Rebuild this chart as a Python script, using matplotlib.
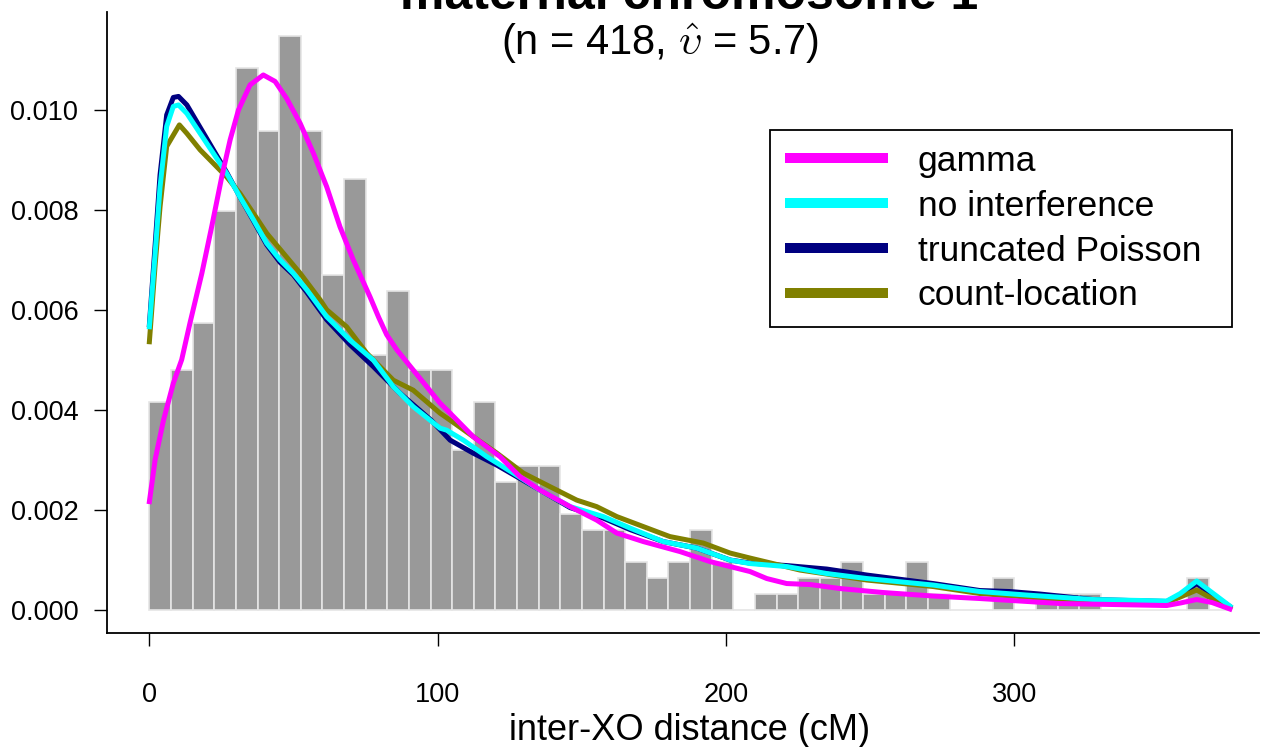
import numpy as np
import matplotlib
matplotlib.use('Agg')
import matplotlib.pyplot as plt

plt.rcParams['font.family'] = ['Liberation Sans', 'DejaVu Sans']
plt.rcParams['mathtext.fontset'] = 'cm'

# histogram of inter-crossover distances (counts per 7.5 cM bin, 0 - 375)
n_obs = 418
bin_width = 7.5
counts = [13, 15, 18, 25, 34, 30, 36, 30, 21, 27,
          16, 20, 15, 15, 10, 13, 8, 9, 9, 6,
          5, 5, 3, 2, 3, 5, 3, 0, 1, 1,
          2, 2, 3, 1, 1, 3, 1, 0, 0, 2,
          0, 1, 1, 1, 0, 0, 0, 0, 2, 0]

# fitted densities (units of 1e-3)
gamma_x = [0, 2.0, 4.9, 8.3, 11.2, 14.1, 18.2, 21.6, 25.1, 28.0, 30.9, 34.9, 39.5,
           43.6, 47.6, 52.3, 56.9, 61.5, 66.1, 70.7, 76.5, 79.5, 82.3, 85.8, 89.3,
           96.2, 100.8, 104.3, 112.3, 121.6, 128.5, 135.5, 145.9, 155.1, 162.1,
           171.3, 184.0, 194.4, 208.3, 214.1, 221.0, 229.1, 239.5, 254.5, 271.8,
           288.0, 315.8, 352.8, 357.5, 363.2, 368.5, 374.7]
gamma_y = [2.16, 3.0, 3.79, 4.53, 5.0, 5.74, 6.73, 7.66, 8.66, 9.40, 10.0, 10.5, 10.70,
           10.57, 10.23, 9.73, 9.13, 8.46, 7.66, 7.0, 6.26, 5.85, 5.5, 5.2, 4.95,
           4.46, 4.13, 3.93, 3.46, 3.06, 2.66, 2.39, 2.06, 1.79, 1.53,
           1.36, 1.16, 0.96, 0.76, 0.62, 0.52, 0.50, 0.42, 0.34, 0.27,
           0.22, 0.12, 0.08, 0.13, 0.20, 0.14, 0.01]

noint_x = [0, 2.0, 3.7, 6.0, 8.3, 10.1, 13.0, 17.6, 22.2, 26.8, 31.4, 36.1, 40.7,
           45.3, 49.9, 54.6, 61.5, 63.8, 69.6, 77.7, 84.6, 91.5, 100.8, 103.1,
           108.9, 117.0, 126.2, 135.5, 145.9, 157.4, 166.7, 178.2, 189.8, 201.4,
           208.3, 221.0, 234.9, 248.8, 271.8, 288.0, 304.2, 327.3, 352.8, 357.5,
           363.2, 368.5, 374.7]
noint_y = [5.66, 7.13, 8.46, 9.67, 10.07, 10.10, 9.93, 9.53, 9.13, 8.73, 8.26, 7.80, 7.33,
           7.0, 6.73, 6.40, 5.86, 5.73, 5.39, 4.99, 4.46, 4.06, 3.63, 3.59,
           3.39, 3.06, 2.73, 2.39, 2.06, 1.86, 1.63, 1.36, 1.23, 0.99,
           0.92, 0.86, 0.72, 0.62, 0.49, 0.36, 0.29, 0.20, 0.17, 0.32,
           0.57, 0.34, 0.07]

trunc_x = [0, 2.0, 3.7, 6.0, 8.3, 10.1, 13.0, 17.6, 22.2, 26.8, 31.4, 36.1, 40.7,
           45.3, 49.9, 54.6, 61.5, 69.6, 77.7, 86.9, 97.7, 104.3, 112.3, 120.5,
           135.5, 145.9, 157.4, 166.7, 178.2, 189.8, 201.4, 208.3, 221.0, 234.9,
           248.8, 271.8, 288.0, 298.4, 308.8, 327.3, 352.8, 357.5, 363.2, 368.5, 374.7]
trunc_y = [5.7, 7.3, 8.7, 9.9, 10.25, 10.27, 10.1, 9.65, 9.2, 8.75, 8.26, 7.78, 7.3,
           6.95, 6.7, 6.35, 5.8, 5.3, 4.86, 4.33, 3.79, 3.39, 3.13, 2.89,
           2.39, 2.04, 1.83, 1.60, 1.36, 1.23, 0.99, 0.93, 0.88, 0.81,
           0.69, 0.52, 0.38, 0.36, 0.31, 0.20, 0.16, 0.29, 0.52, 0.30, 0.06]

cloc_x = [0, 2.0, 3.7, 6.0, 10.4, 13.0, 17.6, 22.2, 26.8, 31.4, 36.1, 40.7, 46.5,
          52.3, 59.2, 61.5, 68.4, 75.4, 84.6, 91.5, 100.8, 104.3, 112.3, 120.5,
          129.7, 138.9, 148.2, 155.1, 162.1, 171.3, 180.5, 192.1, 201.4, 208.3,
          225.6, 248.8, 271.8, 288.0, 315.8, 352.8, 357.5, 363.2, 368.5, 374.7]
cloc_y = [5.36, 6.9, 8.06, 9.27, 9.70, 9.53, 9.20, 8.93, 8.66, 8.33, 7.93, 7.53, 7.13,
          6.73, 6.20, 6.00, 5.66, 5.13, 4.59, 4.39, 3.93, 3.79, 3.46, 3.13,
          2.73, 2.46, 2.19, 2.06, 1.86, 1.66, 1.46, 1.33, 1.13, 1.03,
          0.79, 0.59, 0.46, 0.32, 0.20, 0.14, 0.25, 0.39, 0.22, 0.03]

W, H = 1263, 747
fig = plt.figure(figsize=(W / 100, H / 100), dpi=100)
ax = fig.add_axes([106.7 / W, 1 - 632.7 / H, (1259 - 106.7) / W, (632.7 - 12) / H])

edges = np.arange(len(counts)) * bin_width
dens = np.array(counts) / (n_obs * bin_width)
ax.bar(edges, dens, width=bin_width, align='edge', color='#999999',
       edgecolor='#e5e5e5', linewidth=1.2, zorder=1)

lw = 3.6
l_tp, = ax.plot(trunc_x, np.array(trunc_y) / 1000, color='#000080', lw=lw, zorder=2)
l_cl, = ax.plot(cloc_x, np.array(cloc_y) / 1000, color='#808000', lw=lw, zorder=3)
l_ni, = ax.plot(noint_x, np.array(noint_y) / 1000, color='#00ffff', lw=lw, zorder=4)
l_g, = ax.plot(gamma_x, np.array(gamma_y) / 1000, color='#ff00ff', lw=lw, zorder=5)

ax.set_xlim(-14.8, 384.8)
ax.set_ylim(-0.000464, 0.01196)
for s in ['top', 'right']:
    ax.spines[s].set_visible(False)
for s in ['left', 'bottom']:
    ax.spines[s].set_linewidth(1.3)

ax.set_xticks([0, 100, 200, 300])
yt = np.arange(0, 0.0101, 0.002)
ax.set_yticks(yt)
ax.set_yticklabels(['%.3f' % v for v in yt])
ax.tick_params(direction='out', length=9.4, width=1.0, labelsize=19.5)
ax.tick_params(axis='x', pad=26)
ax.tick_params(axis='y', pad=11)

leg = ax.legend([l_g, l_ni, l_tp, l_cl],
                ['gamma', 'no interference', 'truncated Poisson', 'count-location'],
                loc='upper left',
                bbox_to_anchor=(770 / W, 1 - 322 / H, 462 / W, 192 / H),
                bbox_transform=fig.transFigure, mode='expand', fontsize=25.5,
                fancybox=False, framealpha=1, edgecolor='black', borderaxespad=0,
                handlelength=2.9, handletextpad=0.85, borderpad=0.42,
                labelspacing=0.335)
leg.get_frame().set_linewidth(1.3)
for line in leg.get_lines():
    line.set_linewidth(7.2)
    line.set_solid_capstyle('butt')

fig.text(689 / W, 1 - 9 / H, 'maternal chromosome 1', ha='center', va='baseline',
         fontsize=36, fontweight='bold')
fig.text(660 / W, 1 - 54 / H, r'(n = 418, $\hat{\upsilon}$ = 5.7)', ha='center',
         va='baseline', fontsize=30)
fig.text(689.5 / W, 1 - 740 / H, 'inter-XO distance (cM)', ha='center',
         va='baseline', fontsize=26)

fig.savefig('out.png', dpi=100)
